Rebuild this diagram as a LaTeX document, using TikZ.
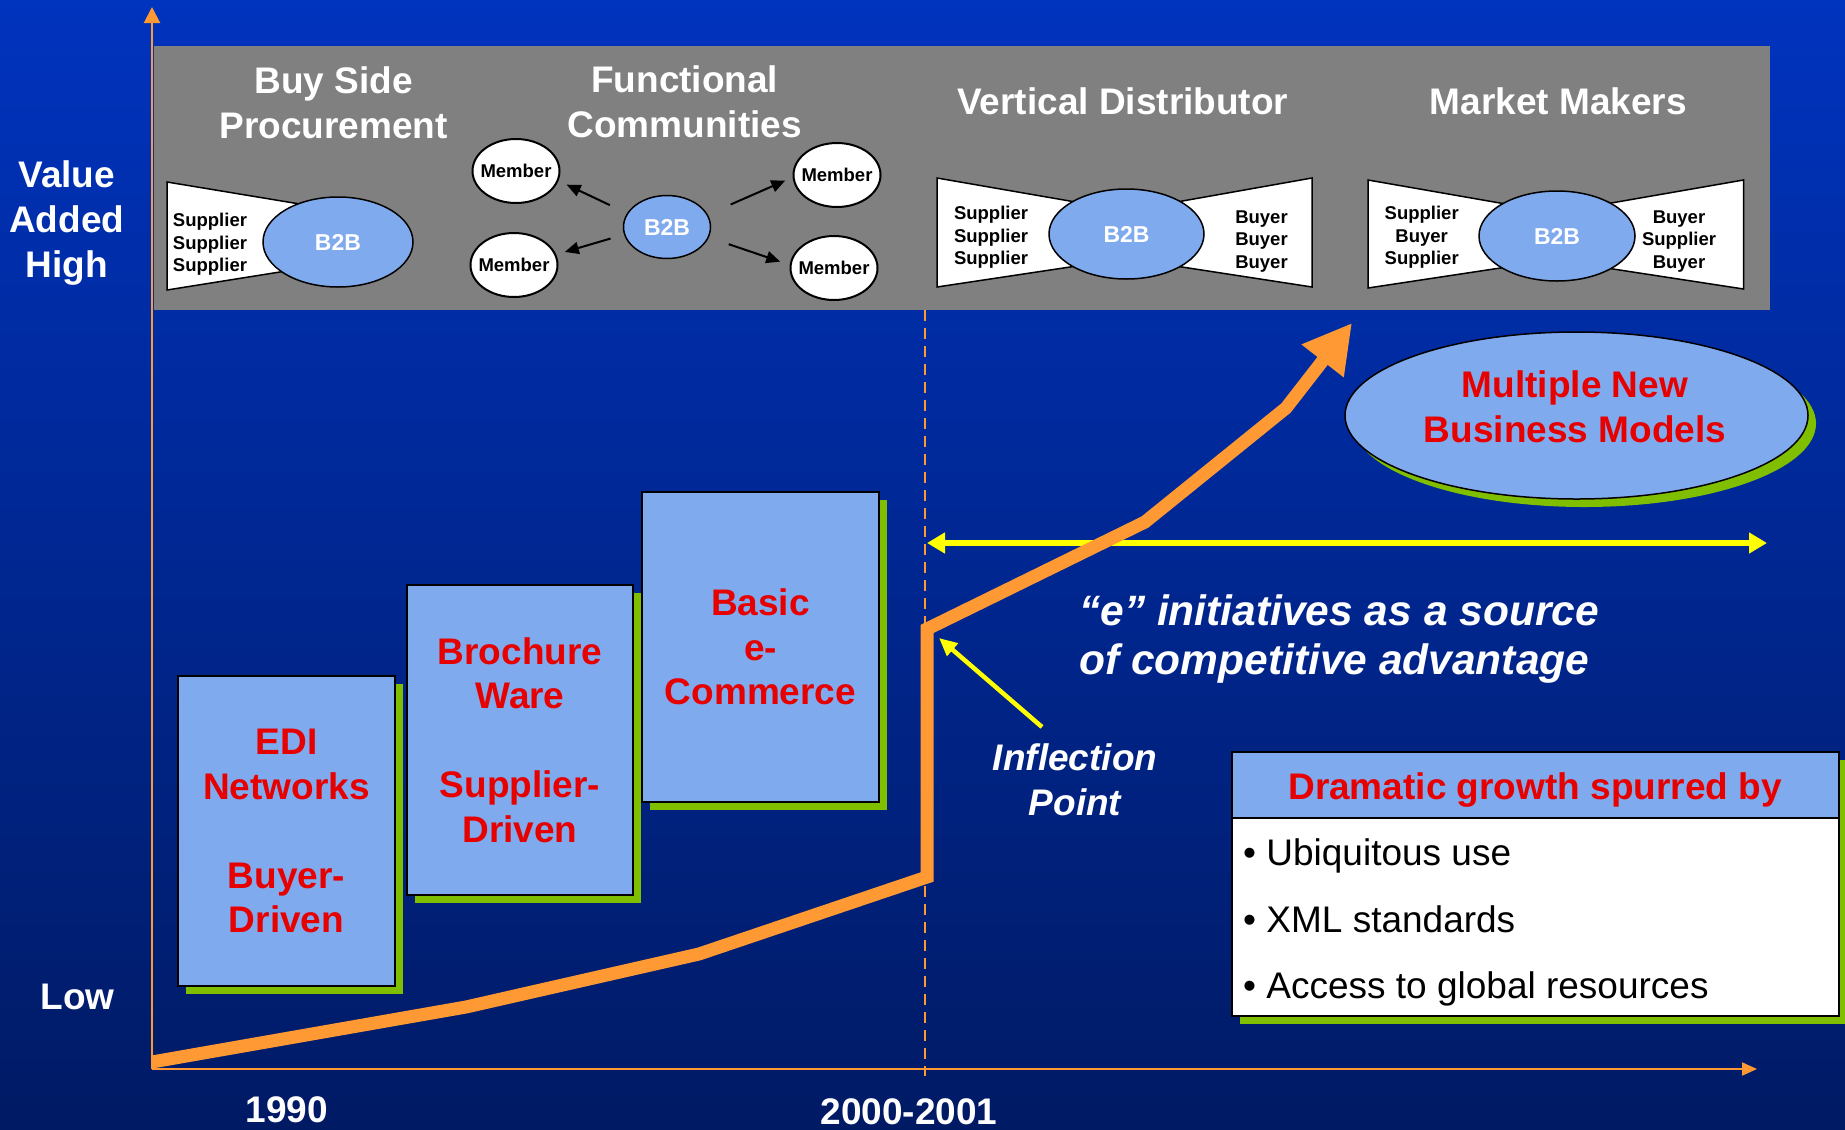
\documentclass[tikz,border=0pt]{standalone}
\usepackage{fontspec}
\setmainfont{Liberation Sans}
\usetikzlibrary{arrows.meta,shapes.geometric,shadows}
\definecolor{bgtop}{RGB}{0,51,190}
\definecolor{bgbot}{RGB}{0,26,100}
\definecolor{panelgray}{RGB}{128,128,128}
\definecolor{lblue}{RGB}{128,170,238}
\definecolor{sgreen}{RGB}{128,190,0}
\definecolor{ored}{RGB}{230,0,0}
\definecolor{aorange}{RGB}{255,153,51}
\definecolor{ayellow}{RGB}{255,255,0}
\newcommand\myfs[2]{\fontsize{#1bp}{#2bp}\selectfont}
\begin{document}
\begin{tikzpicture}[x=1bp,y=-1bp,
  gshadow/.style={drop shadow={shadow xshift=8bp,shadow yshift=-8bp,fill=sgreen,draw=none,opacity=1}},
  trap/.style={draw=black,line width=1.5bp,fill=white,line join=miter},
  b2b/.style={ellipse,draw=black,line width=1.5bp,fill=lblue,inner sep=0,text=white,font=\bfseries\myfs{23}{27}},
  member/.style={ellipse,draw=black,line width=2bp,fill=white,minimum width=87bp,minimum height=64bp,inner sep=-8bp,font=\bfseries\myfs{18.5}{22}},
  smalltxt/.style={inner sep=0,align=center,font=\bfseries\myfs{18.5}{22.5}},
  ttl/.style={inner sep=0,align=center,text=white,font=\bfseries\myfs{37}{45}},
  itxt/.style={inner sep=0,text=white,font=\bfseries\itshape\myfs{42.5}{49}},
  itxtb/.style={inner sep=0,align=center,text=white,font=\bfseries\itshape\myfs{37}{45}},
  stagebox/.style={draw=black,line width=1.5bp,fill=lblue,inner sep=0,align=center,text=ored,font=\bfseries\myfs{37}{44.5},gshadow},
  redtxt/.style={inner sep=0,align=center,text=ored,font=\bfseries\myfs{37}{45}},
  bul/.style={inner sep=0,text=black,font=\myfs{37}{45}},
  farrow/.style={draw=black,line width=2bp,-{Triangle[length=14bp,width=12bp]}},
  axisline/.style={draw=aorange,line width=2bp},
  growth/.style={draw=aorange,line width=13bp,line join=miter,-{Triangle[length=48bp,width=50bp]}},
  yarrow/.style={draw=ayellow,line width=6bp,{Triangle[length=18bp,width=20bp]}-{Triangle[length=18bp,width=20bp]}},
  ypointer/.style={draw=ayellow,line width=4.5bp,-{Triangle[length=18bp,width=16bp]}}
]
\useasboundingbox (0,0) rectangle (1845,1129);
\shade[top color=bgtop,bottom color=bgbot] (0,0) rectangle (1845,1129);

% top panel
\fill[panelgray] (153.5,46) rectangle (1770,310);

% Buy side procurement
\draw[trap] (167,182) -- (330,209) -- (330,264) -- (167,290) -- cycle;
\node[b2b,minimum width=150bp,minimum height=90bp] (bsB) at (338,242) {B2B};
\node[smalltxt] (bsSup) at (210,244.5) {Supplier\\Supplier\\Supplier};

% Functional communities
\node[b2b,minimum width=87bp,minimum height=63bp] (fc) at (667,227) {B2B};
\node[member] (m1) at (516,171) {Member};
\node[member] (m2) at (514,265) {Member};
\node[member] (m3) at (837,175) {Member};
\node[member] (m4) at (834,268) {Member};
\draw[farrow,shorten <=19bp,shorten >=9bp] (fc.161) -- (m1.-13.5);
\draw[farrow,shorten <=14bp,shorten >=9bp] (fc.190) -- (m2.14.6);
\draw[farrow,shorten <=25bp,shorten >=8bp] (fc.17.4) -- (m3.183);
\draw[farrow,shorten <=21bp,shorten >=10bp] (fc.-14.7) -- (m4.176);

% Vertical distributor
\draw[trap] (937,178) -- (1110,208) -- (1110,261) -- (937,287) -- cycle;
\draw[trap] (1312,178) -- (1143,208) -- (1143,261) -- (1312,287) -- cycle;
\node[b2b,minimum width=155bp,minimum height=90bp] (vdB) at (1126.5,234) {B2B};
\node[smalltxt] (vdSup) at (991,237.5) {Supplier\\Supplier\\Supplier};
\node[smalltxt] (vdBuy) at (1261.5,241.5) {Buyer\\Buyer\\Buyer};

% Market makers
\draw[trap] (1368,180) -- (1540,210) -- (1540,262) -- (1368,288) -- cycle;
\draw[trap] (1743.5,180) -- (1574,209.5) -- (1574,263) -- (1743.5,289) -- cycle;
\node[b2b,minimum width=156bp,minimum height=90bp] (mmB) at (1557,236) {B2B};
\node[smalltxt] (mmL) at (1421.7,237.5) {Supplier\\Buyer\\Supplier};
\node[smalltxt] (mmR) at (1679,241.5) {Buyer\\Supplier\\Buyer};

% panel titles
\node[ttl] (tBuy) at (333.7,102.5) {Buy Side\\Procurement};
\node[ttl] (tFunc) at (684.7,102) {Functional\\Communities};
\node[ttl,anchor=base] (tVD) at (1122.8,114) {Vertical Distributor};
\node[ttl,anchor=base] (tMM) at (1558.4,114) {Market Makers};

% dashed line and axes
\coordinate (dTop) at (925,310);
\coordinate (dBot) at (925,1076);
\draw[aorange,line width=2bp,dash pattern=on 11bp off 7bp] (dTop) -- (dBot);
\coordinate (O) at (152,1069);
\coordinate (yTop) at (152,7);
\coordinate (xEnd) at (1757,1069);
\draw[axisline,-{Triangle[length=16bp,width=16bp]}] (O) -- (yTop);
\draw[axisline,-{Triangle[length=15bp,width=13bp]}] (O) -- (xEnd);

% axis labels
\node[ttl] (vah) at (66.7,222.6) {Value\\Added\\High};
\node[ttl,anchor=base] (low) at (77.6,1009) {Low};
\node[ttl,anchor=base] (y1990) at (287,1122.5) {1990};
\node[ttl,anchor=base] (y2000) at (909,1124.5) {2000-2001};

% yellow span arrow
\coordinate (spanL) at (927,543);
\coordinate (spanR) at (1767,543);
\draw[yarrow] (spanL) -- (spanR);

% stage boxes
\node[stagebox,minimum width=217bp,minimum height=310bp] (edi) at (286.5,831) {EDI\\Networks\\~\\Buyer-\\Driven};
\node[stagebox,minimum width=226bp,minimum height=310bp] (broch) at (520,740) {Brochure\\Ware\\~\\Supplier-\\Driven};
\node[stagebox,minimum width=237bp,minimum height=310bp] (basic) at (760.5,647) {Basic\\e-\\Commerce};

% growth curve
\draw[growth] (152,1062) -- (466,1007) -- (699,954) -- (927,877) -- (927,629) -- (1145,522) -- (1286,408) -- (1352,323);

% inflection pointer
\coordinate (ypTail) at (1042,727);
\coordinate (ypTip) at (939,638);
\draw[ypointer] (ypTail) -- (ypTip);
\node[itxtb] (infl) at (1075,779.5) {Inflection\\Point};

% e initiatives text
\node[itxt,align=left,anchor=west] (einit) at (1079,639) {“e” initiatives as a source\\of competitive advantage};

% multiple new business models
\node[ellipse,draw=black,line width=1.5bp,fill=lblue,minimum width=463bp,minimum height=167bp,inner sep=0,gshadow] (nbm) at (1576.5,415.5) {};
\node[redtxt] (nbmT) at (1575,407) {Multiple New\\Business Models};

% dramatic growth box
\node[draw=black,line width=1.5bp,fill=lblue,minimum width=607bp,minimum height=66bp,inner sep=0,gshadow] (hdr) at (1535.5,785) {};
\node[draw=black,line width=1.5bp,fill=white,minimum width=607bp,minimum height=198bp,inner sep=0,gshadow] (bodyb) at (1535.5,917) {};
\node[redtxt,anchor=base] (hdrT) at (1535,799) {Dramatic growth spurred by};
\node[bul,anchor=base west] (b1) at (1243,865) {• Ubiquitous use};
\node[bul,anchor=base west] (b2) at (1243,932) {• XML standards};
\node[bul,anchor=base west] (b3) at (1243,998) {• Access to global resources};
\end{tikzpicture}
\end{document}
